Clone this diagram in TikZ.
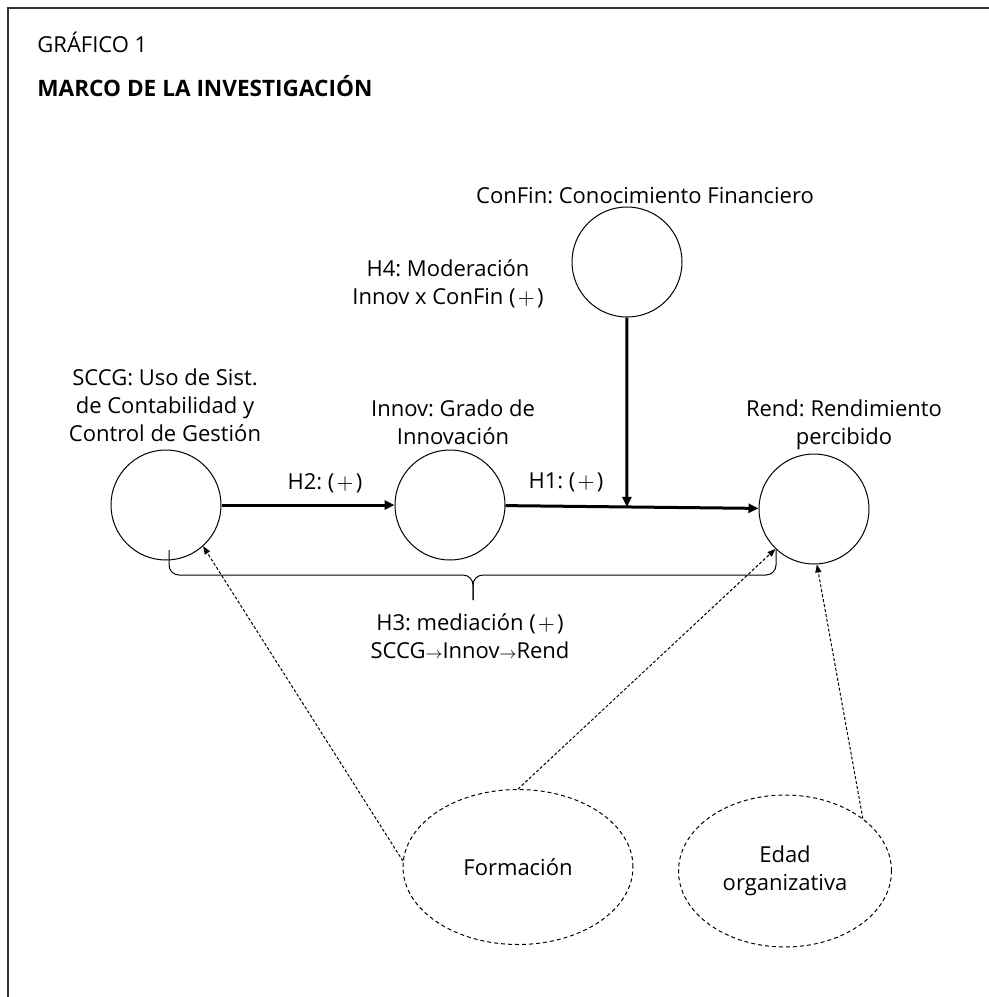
\documentclass[tikz,border=0pt]{standalone}
\usepackage{fontspec}
\setmainfont{Open Sans}
\usetikzlibrary{calc}
\usetikzlibrary{arrows.meta}
\usetikzlibrary{shapes.geometric}
\usepackage{xcolor}
\frenchspacing

\tikzset{
 var/.style={draw, circle, minimum size=55pt, inner sep=0pt, line width=.5pt},
 ctrl/.style={draw, ellipse, dash pattern=on 2pt off 1.5pt, line width=.5pt, align=center, inner sep=0pt},
 lbl/.style={align=center, inner sep=0pt},
 hyp/.style={line width=1.5pt, -{Triangle[length=5pt,width=4.5pt]}},
 dashline/.style={line width=.5pt, dash pattern=on 1.5pt off 1pt, -{Triangle[length=4pt,width=3pt]}},
}
\newcommand{\plusb}{(\kern.1em$+$\kern.1em)}

\begin{document}
\begin{tikzpicture}[x=.5pt, y=-.5pt, font=\fontsize{11}{14}\selectfont]
\useasboundingbox (0,0) rectangle (989,997);
\draw[black!80, line width=1pt] (989,8)--(8,8)--(8,997);
\node[anchor=west, inner sep=0pt] (num) at (37,42) {GRÁFICO 1};
\node[anchor=west, inner sep=0pt, font=\fontsize{11.3}{14}\bfseries] (tit) at (37,86) {MARCO DE LA INVESTIGACIÓN};

\node[var] (SCCG) at (166,505) {};
\node[var] (Innov) at (450,505) {};
\node[var] (Rend) at (814,509) {};
\node[var] (ConFin) at (627,262) {};
\node[lbl] (tSCCG) at (165,405) {SCCG: Uso de Sist.\\de Contabilidad y\\Control de Gestión};
\node[lbl] (tInnov) at (453,422) {Innov: Grado de\\Innovación};
\node[lbl] (tRend) at (844,425) {Rend: Rendimiento\\percibido};
\node[lbl] (tConFin) at (645,196) {ConFin: Conocimiento Financiero};
\node[lbl] (tH4) at (448,284) {H4: Moderación\\Innov x ConFin \plusb};
\node[ctrl, minimum width=115pt, minimum height=77.5pt] (Form) at (518,867) {Formación};
\node[ctrl, minimum width=106.5pt, minimum height=76pt] (Edad) at (785,871) {Edad\\organizativa};

\draw[hyp] (SCCG) -- (Innov);
\node[lbl] (tH2) at (325,483) {H2: \plusb};
\draw[hyp] (Innov) -- (Rend);
\node[lbl] (tH1) at (566,482) {H1: \plusb};
\coordinate (mod) at ($(Innov.east)!.48!(Rend.west)$);
\draw[hyp] (ConFin) -- (mod);

\coordinate (b1) at (169,550);
\coordinate (b2) at (776,550);
\coordinate (bt) at (473,600);
\draw[line width=.5pt, rounded corners=5pt] (b1) -- (169,575) -- (473,575) -- (bt);
\draw[line width=.5pt, rounded corners=5pt] (b2) -- (776,575) -- (473,575) -- (bt);
\node[lbl] (tH3) at (470,636) {H3: mediación \plusb\\SCCG{\footnotesize$\to$}Innov{\footnotesize$\to$}Rend};

\draw[dashline] (Form.177) -- (SCCG.-48);
\draw[dashline] (Form.north) -- (Rend.-134);
\draw[dashline] (Edad.34) -- (Rend.-87);
\end{tikzpicture}
\end{document}
